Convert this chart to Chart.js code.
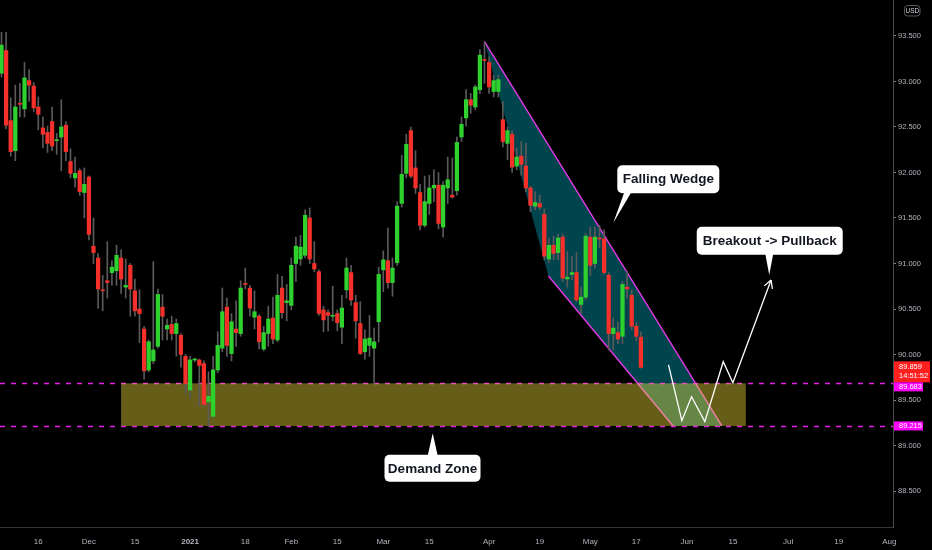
<!DOCTYPE html>
<html>
<head>
<meta charset="utf-8">
<script src="https://cdn.jsdelivr.net/npm/chart.js@4.4.1/dist/chart.umd.min.js"></script>
<style>
    html, body { margin: 0; padding: 0; background: #000; }
    #wrap { width: 932px; height: 550px; position: relative; }
</style>
</head>
<body>
<div id="wrap"><canvas id="DXY_CHART"></canvas></div>
<script>
// daily DXY candles, one per trading day (index 0 = first visible bar)
const opens = [93.09, 93.34, 92.57, 92.24, 92.76, 92.70, 93.01, 92.95, 92.72, 92.49,
    92.44, 92.56, 92.35, 92.39, 92.52, 92.12, 91.94, 92.02, 91.78, 91.95,
    91.19, 91.06, 90.71, 90.81, 90.90, 90.92, 91.06, 90.74, 90.98, 90.70,
    90.50, 90.28, 89.83, 89.93, 90.09, 90.52, 90.28, 90.33, 90.23, 90.21,
    89.98, 89.61, 89.94, 89.94, 89.90, 89.48, 89.32, 89.83, 90.07, 90.52,
    90.01, 90.28, 90.23, 90.78, 90.73, 90.41, 90.42, 90.06, 90.23, 90.40,
    90.16, 90.73, 90.57, 90.54, 91.00, 91.05, 91.09, 91.50, 91.00, 90.91,
    90.49, 90.46, 90.42, 90.45, 90.30, 90.71, 90.90, 90.57, 90.34, 90.03,
    90.10, 90.07, 90.36, 90.93, 91.03, 90.79, 91.01, 91.66, 91.99, 92.46,
    92.05, 91.78, 91.42, 91.66, 91.83, 91.86, 91.40, 91.83, 91.75, 91.80,
    92.39, 92.60, 92.80, 92.72, 92.91, 93.24, 93.21, 92.89, 92.89, 92.58,
    92.32, 92.42, 92.07, 92.18, 92.07, 91.83, 91.63, 91.66, 91.54, 91.05,
    91.20, 91.12, 91.29, 90.83, 90.88, 90.90, 90.55, 90.63, 91.29, 91.00,
    91.28, 91.27, 90.87, 90.23, 90.24, 90.20, 90.74, 90.65, 90.31, 90.19];
const highs = [93.54, 93.54, 92.82, 92.96, 92.98, 93.21, 93.13, 92.99, 92.83, 92.61,
    92.51, 92.72, 92.43, 92.80, 92.56, 92.26, 92.17, 92.04, 92.05, 91.96,
    91.50, 91.11, 90.87, 91.24, 91.03, 91.20, 91.15, 91.05, 91.00, 90.83,
    90.71, 90.31, 90.16, 91.02, 90.72, 90.66, 90.39, 90.42, 90.39, 90.23,
    90.00, 89.98, 89.96, 89.95, 89.93, 89.81, 89.98, 90.25, 90.73, 90.62,
    90.45, 90.59, 90.81, 90.95, 90.76, 90.70, 90.44, 90.31, 90.53, 90.63,
    90.88, 90.86, 90.77, 91.06, 91.29, 91.31, 91.59, 91.61, 91.24, 90.93,
    90.53, 90.49, 90.75, 90.49, 90.65, 91.06, 90.98, 90.65, 90.58, 90.27,
    90.43, 90.29, 90.96, 91.14, 91.39, 91.06, 91.68, 92.19, 92.42, 92.50,
    92.24, 91.87, 91.96, 91.97, 92.03, 92.00, 91.90, 92.17, 92.16, 92.39,
    92.61, 92.91, 92.87, 92.96, 93.35, 93.44, 93.27, 93.07, 93.07, 92.78,
    92.50, 92.46, 92.27, 92.34, 92.32, 91.85, 91.79, 91.75, 91.60, 91.28,
    91.30, 91.32, 91.32, 91.13, 91.08, 91.12, 90.74, 91.33, 91.40, 91.40,
    91.42, 91.37, 90.90, 90.40, 90.36, 90.80, 90.91, 90.71, 90.35, 90.25];
const lows = [93.05, 92.48, 92.18, 92.13, 92.61, 92.61, 92.78, 92.67, 92.47, 92.27,
    92.22, 92.24, 92.20, 92.02, 92.13, 91.94, 91.84, 91.75, 91.50, 91.26,
    91.00, 90.51, 90.48, 90.62, 90.76, 90.76, 90.67, 90.62, 90.42, 90.42,
    90.13, 89.73, 89.81, 89.90, 90.07, 90.16, 90.16, 90.16, 89.98, 89.86,
    89.57, 89.52, 89.92, 89.43, 89.43, 89.21, 89.30, 89.80, 90.03, 89.98,
    89.93, 90.09, 90.20, 90.72, 90.42, 90.28, 90.06, 90.04, 90.09, 90.12,
    90.14, 90.40, 90.37, 90.49, 90.80, 90.98, 91.06, 91.00, 90.91, 90.43,
    90.25, 90.26, 90.37, 90.26, 90.12, 90.62, 90.54, 90.18, 90.00, 89.95,
    89.98, 89.68, 90.14, 90.69, 90.73, 90.64, 90.98, 91.62, 91.94, 91.94,
    91.77, 91.37, 91.40, 91.54, 91.68, 91.38, 91.29, 91.66, 91.72, 91.75,
    92.34, 92.51, 92.65, 92.69, 92.87, 92.98, 92.87, 92.83, 92.83, 92.28,
    92.14, 92.00, 92.03, 91.97, 91.79, 91.57, 91.59, 91.59, 91.04, 91.01,
    91.04, 91.04, 90.80, 90.74, 90.82, 90.58, 90.45, 90.60, 90.87, 90.95,
    91.17, 90.88, 90.05, 90.05, 90.12, 90.12, 90.62, 90.27, 90.15, 89.85];
const closes = [93.40, 92.52, 92.23, 92.72, 92.75, 93.04, 92.96, 92.71, 92.64, 92.42,
    92.32, 92.29, 92.36, 92.50, 92.23, 91.99, 91.99, 91.79, 91.87, 91.32,
    91.12, 90.72, 90.70, 90.79, 90.96, 91.09, 90.83, 90.76, 90.72, 90.48,
    90.45, 89.82, 90.14, 90.05, 90.66, 90.42, 90.32, 90.23, 90.34, 90.00,
    89.68, 89.94, 89.95, 89.88, 89.45, 89.54, 89.83, 90.10, 90.47, 90.10,
    90.36, 90.24, 90.73, 90.77, 90.51, 90.47, 90.14, 90.24, 90.39, 90.17,
    90.65, 90.46, 90.59, 90.98, 91.19, 91.18, 91.53, 91.05, 90.94, 90.45,
    90.38, 90.43, 90.43, 90.35, 90.51, 90.95, 90.60, 90.37, 90.01, 90.17,
    90.18, 90.14, 90.88, 91.04, 90.79, 90.95, 91.63, 91.98, 92.31, 91.96,
    91.83, 91.42, 91.68, 91.83, 91.86, 91.44, 91.86, 91.92, 91.73, 92.33,
    92.53, 92.80, 92.74, 92.94, 93.29, 93.23, 92.94, 93.01, 93.02, 92.34,
    92.46, 92.06, 92.17, 92.09, 91.83, 91.64, 91.67, 91.62, 91.08, 91.20,
    91.11, 91.28, 90.84, 90.85, 90.90, 90.60, 90.63, 91.30, 90.98, 91.29,
    91.27, 90.90, 90.23, 90.29, 90.17, 90.77, 90.72, 90.31, 90.20, 89.859];

// time axis labels (bar index -> text)
const tickPos = [8, 19, 29, 41, 53, 63, 73, 83, 93, 106, 117, 128, 138, 149, 159, 171, 182, 193];
const tickText = ['16', 'Dec', '15', '2021', '18', 'Feb', '15', 'Mar', '15', 'Apr', '19', 'May', '17', 'Jun', '15', 'Jul', '19', 'Aug'];
const priceTicks = [88.5, 89, 89.5, 90, 90.5, 91, 91.5, 92, 92.5, 93, 93.5];

// drawings (bar index, price)
const demandTop = 89.683;
const demandBottom = 89.215;
const demandFrom = 26, demandTo = 161.8;
const lastPrice = 89.859;
const wedge = [[105, 93.437], [156.6, 89.215], [146.0, 89.215], [118.9, 90.863]];
const zigzag = [[145.0, 89.885], [147.9, 89.273], [150.0, 89.536], [152.9, 89.262], [156.9, 89.921], [159.0, 89.690], [167.3, 90.819]];
const calloutText = ['Falling Wedge', 'Breakout -> Pullback', 'Demand Zone'];
const calloutTip = [[133.0, 91.448], [166.9, 90.874], [93.74, 89.134]];

const bull = '#2ed12e', bear = '#f5302a', wickCol = '#5a5a5a';
const axisFont = '"Liberation Sans", Arial, sans-serif';

function roundRect(ctx, x, y, w, h, r) {
    ctx.beginPath();
    ctx.moveTo(x + r, y);
    ctx.arcTo(x + w, y, x + w, y + h, r);
    ctx.arcTo(x + w, y + h, x, y + h, r);
    ctx.arcTo(x, y + h, x, y, r);
    ctx.arcTo(x, y, x + w, y, r);
    ctx.closePath();
}

const drawings = {
    id: 'drawings',
    beforeDatasetsDraw(chart) {
        const {ctx, chartArea, scales: {x, y}} = chart;
        ctx.save();
        ctx.beginPath();
        ctx.rect(chartArea.left, chartArea.top, chartArea.right - chartArea.left, chartArea.bottom - chartArea.top);
        ctx.clip();

        // wedge
        const w = wedge.map(p => [x.getPixelForValue(p[0]), y.getPixelForValue(p[1])]);
        ctx.beginPath();
        w.forEach((p, k) => k ? ctx.lineTo(p[0], p[1]) : ctx.moveTo(p[0], p[1]));
        ctx.closePath();
        ctx.fillStyle = 'rgba(0, 150, 170, 0.45)';
        ctx.fill();
        ctx.strokeStyle = '#e33ae6';
        ctx.lineWidth = 1.4;
        ctx.beginPath();
        ctx.moveTo(w[0][0], w[0][1]); ctx.lineTo(w[1][0], w[1][1]);
        ctx.moveTo(w[3][0], w[3][1]); ctx.lineTo(w[2][0], w[2][1]);
        ctx.stroke();

        // horizontal dashed levels
        ctx.setLineDash([5, 6]);
        ctx.strokeStyle = '#e61ee6';
        ctx.lineWidth = 1.3;
        [demandTop, demandBottom].forEach(v => {
            const py = Math.round(y.getPixelForValue(v)) + 0.5;
            ctx.beginPath();
            ctx.moveTo(chartArea.left, py);
            ctx.lineTo(chartArea.right, py);
            ctx.stroke();
        });
        ctx.setLineDash([]);

        // demand zone
        const zx0 = x.getPixelForValue(demandFrom), zx1 = x.getPixelForValue(demandTo);
        const zy0 = y.getPixelForValue(demandTop), zy1 = y.getPixelForValue(demandBottom);
        ctx.fillStyle = 'rgba(255, 235, 59, 0.4)';
        ctx.fillRect(zx0, zy0, zx1 - zx0, zy1 - zy0);
        ctx.restore();
    },
    afterDatasetsDraw(chart) {
        const {ctx, scales: {x, y}} = chart;
        ctx.save();

        // projected path
        const z = zigzag.map(p => [x.getPixelForValue(p[0]), y.getPixelForValue(p[1])]);
        ctx.strokeStyle = '#ffffff';
        ctx.lineWidth = 1.3;
        ctx.lineJoin = 'miter';
        ctx.beginPath();
        z.forEach((p, k) => k ? ctx.lineTo(p[0], p[1]) : ctx.moveTo(p[0], p[1]));
        ctx.stroke();
        const tip = z[z.length - 1], prev = z[z.length - 2];
        const ang = Math.atan2(tip[1] - prev[1], tip[0] - prev[0]);
        ctx.beginPath();
        [-0.5, 0.5].forEach(d => {
            ctx.moveTo(tip[0], tip[1]);
            ctx.lineTo(tip[0] - 9 * Math.cos(ang + d), tip[1] - 9 * Math.sin(ang + d));
        });
        ctx.stroke();

        // callouts
        const boxes = [
            {dx: 55, dy: -43.5, w: 102, h: 28, b0: 7, b1: 14},
            {dx: 0.5, dy: -34.3, w: 146, h: 28, b0: -4, b1: 4},
            {dx: -0.2, dy: 35, w: 96, h: 27, b0: -5, b1: 5}
        ];
        ctx.font = 'bold 13.5px "Liberation Sans", Arial, sans-serif';
        ctx.textAlign = 'center';
        ctx.textBaseline = 'middle';
        calloutText.forEach((t, k) => {
            const b = boxes[k];
            const tx = x.getPixelForValue(calloutTip[k][0]), ty = y.getPixelForValue(calloutTip[k][1]);
            const cx = tx + b.dx, cy = ty + b.dy;
            const bx = cx - b.w / 2, by = cy - b.h / 2;
            ctx.fillStyle = '#ffffff';
            roundRect(ctx, bx, by, b.w, b.h, 5);
            ctx.fill();
            const edge = b.dy < 0 ? by + b.h - 1 : by + 1;
            const baseX = b.dy < 0 && b.dx > 20 ? bx : tx;
            ctx.beginPath();
            ctx.moveTo(baseX + b.b0, edge);
            ctx.lineTo(tx, ty);
            ctx.lineTo(baseX + b.b1, edge);
            ctx.closePath();
            ctx.fill();
            ctx.fillStyle = '#131722';
            ctx.fillText(t, cx, cy + 0.5);
        });
        ctx.restore();
    },
    afterDraw(chart) {
        const {ctx, chartArea, scales: {y}} = chart;
        const ax = chartArea.right + 1;
        ctx.save();
        ctx.textBaseline = 'middle';
        ctx.textAlign = 'left';
        ctx.font = '7.5px ' + axisFont;

        // last price + countdown
        const ly = y.getPixelForValue(lastPrice);
        ctx.fillStyle = '#ff1f1f';
        ctx.fillRect(ax, ly - 6, 932 - ax - 2, 21);
        ctx.fillStyle = '#ffffff';
        ctx.fillText(lastPrice.toFixed(3), ax + 5, ly);
        ctx.fillText('14:51:52', ax + 5, ly + 9);

        // level labels
        [[demandTop, ly + 15 + 4.5], [demandBottom, y.getPixelForValue(demandBottom)]].forEach(([v, cy]) => {
            ctx.fillStyle = '#ff00ff';
            ctx.fillRect(ax, cy - 4.5, 29, 9);
            ctx.fillStyle = '#ffffff';
            ctx.fillText(v.toFixed(3), ax + 5, cy + 0.5);
        });

        // currency badge
        ctx.strokeStyle = '#5a5a5a';
        ctx.lineWidth = 1;
        roundRect(ctx, 904.5, 5.5, 15.5, 10.5, 3);
        ctx.stroke();
        ctx.fillStyle = '#d1d4dc';
        ctx.textAlign = 'center';
        ctx.font = '6.5px ' + axisFont;
        ctx.fillText('USD', 912.3, 11);
        ctx.restore();
    }
};

const xMin = -0.326, xMax = xMin + 893 / 4.6;
const yMax = 93.5 + 36 / 91, yMin = 93.5 - 491 / 91;

const dxyChart = new Chart(document.getElementById('DXY_CHART').getContext('2d'), {
    type: 'bar',
    data: {
        datasets: [{
            label: 'wick',
            data: highs.map((h, i) => ({x: i, y: [lows[i], h]})),
            backgroundColor: wickCol,
            barThickness: 1,
            grouped: false,
            order: 2
        }, {
            label: 'body',
            data: opens.map((o, i) => ({x: i, y: [o, closes[i]]})),
            backgroundColor: opens.map((o, i) => closes[i] >= o ? bull : bear),
            barThickness: 3.6,
            minBarLength: 1,
            grouped: false,
            order: 1
        }]
    },
    options: {
        responsive: true,
        maintainAspectRatio: false,
        animation: false,
        layout: { padding: 0 },
        plugins: {
            legend: { display: false },
            tooltip: { enabled: false }
        },
        scales: {
            x: {
                type: 'linear',
                min: xMin,
                max: xMax,
                offset: false,
                afterFit: s => { s.height = 23; s.paddingLeft = 0; s.paddingRight = 0; },
                afterBuildTicks: s => { s.ticks = tickPos.map(v => ({value: v})); },
                grid: { drawOnChartArea: false, drawTicks: false, offset: false },
                border: { display: true, color: '#363636' },
                ticks: {
                    autoSkip: false,
                    maxRotation: 0,
                    padding: 10,
                    color: '#b2b5be',
                    font: ctx => ({ size: 8, family: axisFont, weight: ctx.tick && ctx.tick.label === '2021' ? 'bold' : 'normal' }),
                    callback: (v, idx) => tickText[idx]
                }
            },
            y: {
                type: 'linear',
                position: 'right',
                min: yMin,
                max: yMax,
                afterFit: s => { s.width = 39; s.paddingTop = 0; s.paddingBottom = 0; },
                afterBuildTicks: s => { s.ticks = priceTicks.map(v => ({value: v})); },
                grid: { drawOnChartArea: false, drawTicks: true, tickLength: 3, color: '#8a8a8a' },
                border: { display: true, color: '#4b4b4b' },
                ticks: {
                    padding: 2,
                    color: '#b2b5be',
                    font: { size: 7.5, family: axisFont },
                    callback: v => v.toFixed(3)
                }
            }
        }
    },
    plugins: [drawings]
});
</script>
</body>
</html>
